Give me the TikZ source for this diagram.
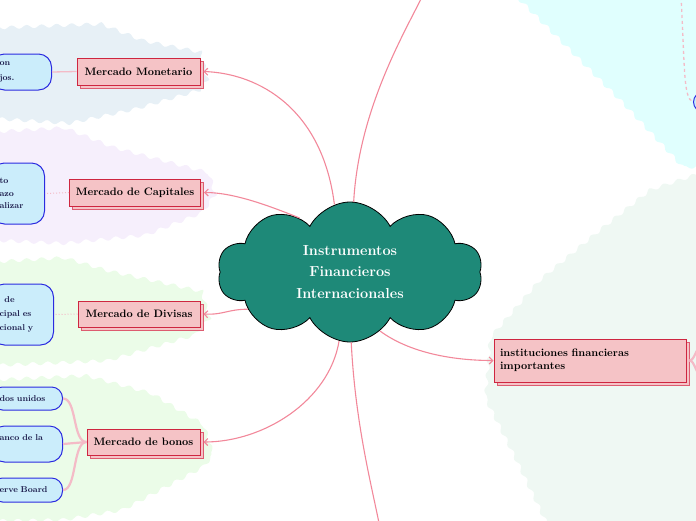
\documentclass[tikz,border=0pt]{standalone}
\usetikzlibrary{shapes.symbols,shadows,arrows.meta,decorations.pathmorphing,calc}
\definecolor{boxfill}{HTML}{F5C3C6}
\definecolor{boxdraw}{HTML}{CE2640}
\definecolor{shdraw}{HTML}{DD5C70}
\definecolor{cloudfill}{HTML}{1E8978}
\definecolor{bluefill}{HTML}{CBEDFB}
\definecolor{bluedraw}{HTML}{2B2BE0}
\definecolor{navy}{HTML}{1A1A4A}
\definecolor{link}{HTML}{F2889A}
\definecolor{sublink}{HTML}{F4BBC7}
\definecolor{regM}{HTML}{E7F0F6}
\definecolor{regC}{HTML}{F6EFFC}
\definecolor{regG}{HTML}{EBFCE8}
\definecolor{regCy}{HTML}{E0FFFE}
\definecolor{regR}{HTML}{EFF8F3}
\begin{document}
\begin{tikzpicture}[x=1pt,y=-1pt,
  region/.style={decorate,decoration={snake,amplitude=1.8pt,segment length=15pt}},
  mainbox/.style={draw=boxdraw,fill=boxfill,line width=1pt,inner sep=0pt,
    font=\fontsize{10.8}{13}\selectfont\bfseries,
    copy shadow={shadow xshift=3pt,shadow yshift=-3pt,draw=shdraw,fill=boxfill,line width=1pt}},
  bluenode/.style={draw=bluedraw,fill=bluefill,line width=1pt,rounded corners=13pt,
    text=navy,align=left,inner xsep=8pt,inner ysep=0pt,anchor=east},
  blink/.style={draw=link,line width=1.1pt,-{Straight Barb[length=3.5pt,width=7pt]}},
  slink/.style={draw=sublink,line width=1.3pt},
  dlink/.style={draw=sublink,line width=1pt,dotted},
  thick link/.style={draw=sublink,line width=2.2pt},
]
\useasboundingbox (0,0) rectangle (696,520);
\clip (0,0) rectangle (696,520);
% background regions
\fill[regM,region] (-8,28) -- (100,24) -- (140,40) -- (200,52) -- (207,80) -- (198,92) -- (130,112) -- (70,125) -- (-8,120) -- cycle;
\fill[regC,region] (-8,132) -- (60,128) -- (110,148) -- (200,172) -- (208,200) -- (195,218) -- (140,240) -- (60,248) -- (-8,245) -- cycle;
\fill[regG,region] (-8,262) -- (60,258) -- (100,270) -- (200,292) -- (208,320) -- (195,335) -- (110,360) -- (-8,365) -- cycle;
\fill[regG,region] (-8,380) -- (80,376) -- (150,395) -- (200,425) -- (208,450) -- (195,465) -- (120,505) -- (60,515) -- (-8,516) -- cycle;
\fill[regCy,region] (512,-8) -- (560,40) -- (620,100) -- (680,164) -- (704,162) -- (704,-8) -- cycle;
\fill[regR,region] (704,172) -- (650,190) -- (600,230) -- (540,280) -- (495,332) -- (490,395) -- (520,455) -- (555,528) -- (704,528) -- cycle;

% cloud
\node[cloud,cloud puffs=10,cloud puff arc=125,aspect=1.9,minimum width=265pt,minimum height=140pt,
  inner sep=0pt,fill=cloudfill,draw=black,line width=0.8pt,text=white,align=center,
  font=\fontsize{14.5}{21.5}\selectfont\bfseries] (c) at (350,272) {Instrumentos\\Financieros\\Internacionales};

% main boxes
\node[mainbox,minimum width=123pt,minimum height=27pt] (mm) at (138.5,71.5) {Mercado Monetario};
\node[mainbox,minimum width=131pt,minimum height=27pt] (mc) at (135,192.5) {Mercado de Capitales};
\node[mainbox,minimum width=122pt,minimum height=26pt] (md) at (139,314) {Mercado de Divisas};
\node[mainbox,minimum width=113pt,minimum height=26pt] (mb) at (143.5,442) {Mercado de bonos};
\node[mainbox,minimum width=192pt,minimum height=43pt,text width=180pt,align=left] (mi) at (590,360.5) {instituciones financieras\\importantes};

% blue nodes
\node[bluenode,text width=44pt,minimum height=36pt,font=\fontsize{8.5}{15}\selectfont\bfseries] (m1) at (52,72) {on\\jos.};
\node[bluenode,text width=37pt,minimum height=61pt,font=\fontsize{8.5}{12.5}\selectfont\bfseries] (c1) at (45,193.5) {to\\azo\\alizar};
\node[bluenode,text width=46pt,minimum height=61pt,font=\fontsize{8.5}{14}\selectfont\bfseries] (d1) at (54,314.5) {\hspace*{5pt}de\\cipal es\\cional y};
\node[bluenode,text width=55pt,minimum height=23pt,rounded corners=11pt,font=\fontsize{8.5}{12}\selectfont\bfseries] (b1) at (63,398.5) {dos unidos};
\node[bluenode,text width=55pt,minimum height=36pt,font=\fontsize{8.5}{12}\selectfont\bfseries] (b2) at (63,444) {anco de la\\\mbox{}};
\node[bluenode,text width=55pt,minimum height=24pt,rounded corners=11pt,font=\fontsize{8.5}{12}\selectfont\bfseries] (b3) at (63,490) {erve Board};
\node[bluenode,anchor=west,minimum width=60pt,minimum height=20pt,rounded corners=10pt] (t1) at (693,102) {};

% free ends
\coordinate (topend) at (422,-3);
\coordinate (botend) at (379,523);
\coordinate (tr0) at (681,-3);
\coordinate (ir1) at (700,348);
\coordinate (ir2) at (700,374);

% sub links
\draw[slink] (mm.west) -- (m1.east);
\draw[dlink] (mc.west) -- (c1.east);
\draw[dlink] (md.west) -- (d1.east);
\draw[thick link] (mb.west) .. controls +(-14,0) and +(14,0) .. (b1.east);
\draw[thick link] (mb.west) -- (b2.east);
\draw[thick link] (mb.west) .. controls +(-14,0) and +(14,0) .. (b3.east);
\draw[thick link] ($(mi.east)+(3,0)$) .. controls +(5,0) and +(-4,0) .. (ir1);
\draw[thick link] ($(mi.east)+(3,0)$) .. controls +(5,0) and +(-4,0) .. (ir2);
\draw[draw=sublink,line width=1.3pt,dashed] (tr0) .. controls +(4,70) and +(-10,-4) .. (t1.west);

% main links
\draw[blink] (c.103) .. controls +(-12,-95) and +(56,2) .. ($(mm.east)+(3,0)$);
\draw[blink] (c.133) .. controls +(-30,-12) and +(30,0) .. ($(mc.east)+(3,0)$);
\draw[blink] (c.200) .. controls +(-20,0) and +(20,1) .. ($(md.east)+(3,0)$);
\draw[blink] (c.261) .. controls +(-10,60) and +(60,0) .. ($(mb.east)+(3,0)$);
\draw[blink] (c.297) .. controls +(30,22) and +(-40,0) .. (mi.west);
\draw[draw=link,line width=1.1pt] (c.87) .. controls +(5,-90) and +(-20,40) .. (topend);
\draw[draw=link,line width=1.1pt] (c.271) .. controls +(4,80) and +(-8,-40) .. (botend);
\end{tikzpicture}
\end{document}
